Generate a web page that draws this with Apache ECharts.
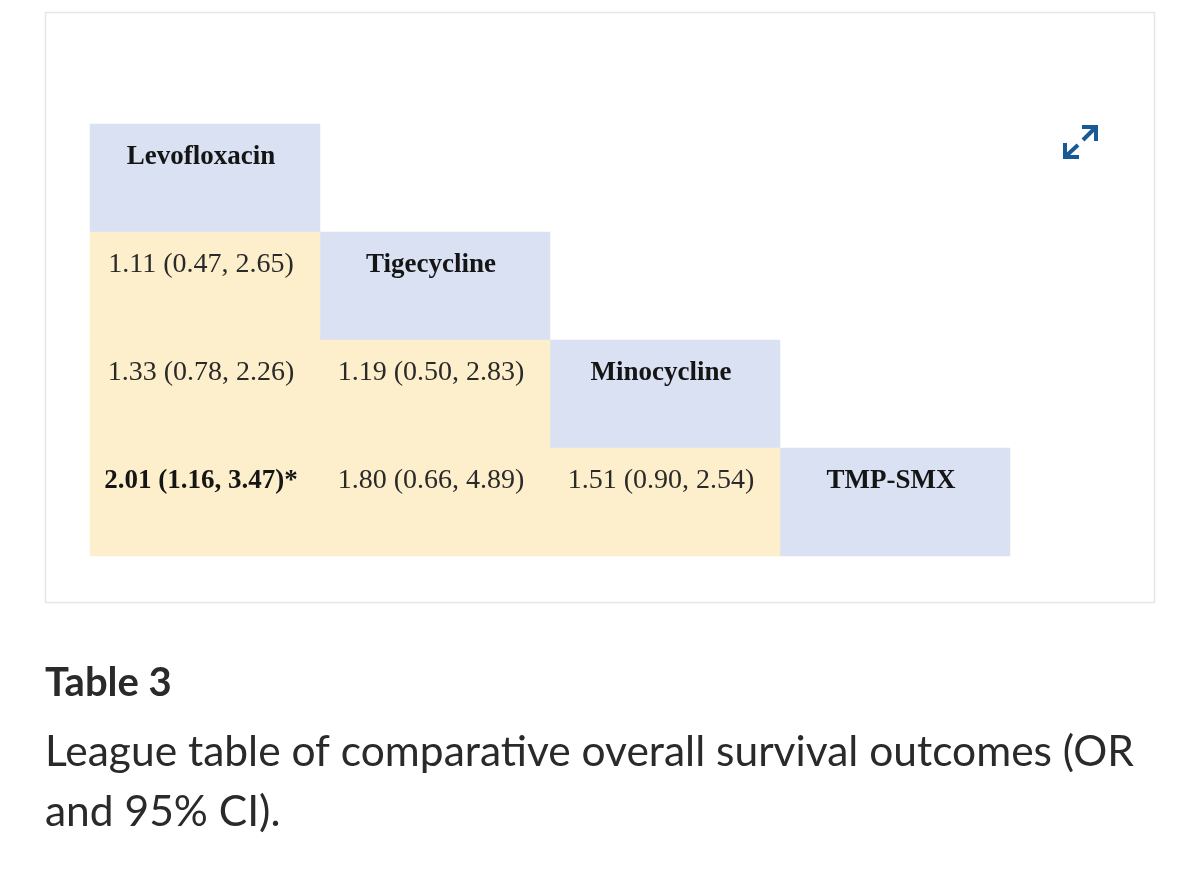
<!DOCTYPE html>
<html>
<head>
<meta charset="utf-8">
<script src="https://cdn.jsdelivr.net/npm/echarts@6/dist/echarts.min.js"></script>
<style>
  html, body { margin: 0; padding: 0; background: #ffffff; }
  #chart { width: 1200px; height: 881px; }
</style>
</head>
<body>
<div id="chart"></div>
<script>
// ---- Data ----
const treatments = ['Levofloxacin', 'Tigecycline', 'Minocycline', 'TMP-SMX'];
// lower-triangle comparisons (row treatment vs column treatment)
const pairRow = [1, 2, 2, 3, 3, 3];
const pairCol = [0, 0, 1, 0, 1, 2];
const oddsRatio = [1.11, 1.33, 1.19, 2.01, 1.80, 1.51];
const ciLower = [0.47, 0.78, 0.50, 1.16, 0.66, 0.90];
const ciUpper = [2.65, 2.26, 2.83, 3.47, 4.89, 2.54];
const significant = [false, false, false, true, false, false];
const captionTitle = 'Table 3';
const captionLines = ['League table of comparative overall survival outcomes (OR', 'and 95% CI).'];

// ---- Build heatmap cells ----
const cells = [];
treatments.forEach(function (t, i) {
  cells.push({ value: [i, i, 0], name: t, label: { fontWeight: 'bold', fontSize: 27, color: '#151515' } });
});
oddsRatio.forEach(function (v, k) {
  const txt = v.toFixed(2) + ' (' + ciLower[k].toFixed(2) + ', ' + ciUpper[k].toFixed(2) + ')' + (significant[k] ? '*' : '');
  cells.push({
    value: [pairCol[k], pairRow[k], 1], name: txt,
    label: significant[k] ? { fontWeight: 'bold', fontSize: 27, color: '#151515' } : { fontWeight: 'normal', fontSize: 28, color: '#2a2a2a' }
  });
});

const chart = echarts.init(document.getElementById('chart'), null, { renderer: 'canvas' });
chart.setOption({
  animation: false,
  backgroundColor: '#ffffff',
  grid: { left: 90, top: 124, width: 920, height: 432, containLabel: false },
  xAxis: { type: 'category', data: treatments, show: false },
  yAxis: { type: 'category', data: treatments, inverse: true, show: false },
  visualMap: {
    show: false, type: 'piecewise', dimension: 2,
    pieces: [{ value: 0, color: '#d9e1f3' }, { value: 1, color: '#fdefcb' }]
  },
  series: [{
    type: 'heatmap',
    data: cells,
    itemStyle: { borderWidth: 0 },
    emphasis: { disabled: true },
    label: {
      show: true,
      formatter: function (p) { return p.name; },
      fontFamily: 'Liberation Serif',
      fontSize: 27,
      color: '#1f1f1f',
      offset: [-4, -21]
    }
  }],
  graphic: [
    { type: 'rect', shape: { x: 45.5, y: 12.5, width: 1109, height: 590 }, style: { fill: 'none', stroke: '#e6e6e6', lineWidth: 1.5 }, z: -10 },
    // expand icon
    { type: 'polyline', shape: { points: [[1082, 127], [1096, 127], [1096, 141]] }, style: { stroke: '#175a96', lineWidth: 4, fill: 'none' } },
    { type: 'polyline', shape: { points: [[1065, 143], [1065, 157], [1079, 157]] }, style: { stroke: '#175a96', lineWidth: 4, fill: 'none' } },
    { type: 'line', shape: { x1: 1095, y1: 128, x2: 1083, y2: 140 }, style: { stroke: '#175a96', lineWidth: 4 } },
    { type: 'line', shape: { x1: 1078, y1: 145, x2: 1066, y2: 156 }, style: { stroke: '#175a96', lineWidth: 4 } },
    // caption
    { type: 'text', x: 45, y: 683, style: { text: captionTitle, font: 'bold 40px Lato', fill: '#2a2a2a', verticalAlign: 'middle' } },
    { type: 'text', x: 45, y: 752, style: { text: captionLines[0], font: '42.5px Lato', fill: '#2a2a2a', verticalAlign: 'middle' } },
    { type: 'text', x: 45, y: 812, style: { text: captionLines[1], font: '42.5px Lato', fill: '#2a2a2a', verticalAlign: 'middle' } }
  ]
});
</script>
</body>
</html>
